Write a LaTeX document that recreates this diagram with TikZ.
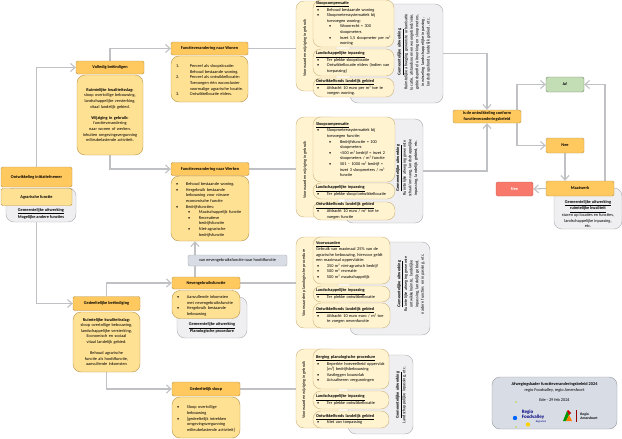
\documentclass[tikz,border=0pt]{standalone}
\usepackage{fontspec}
\setmainfont{Carlito}
\usetikzlibrary{arrows.meta,backgrounds}

\definecolor{kopkleur}{HTML}{FFC95F}
\definecolor{kopRand}{HTML}{B8944A}
\definecolor{inhoudkleur}{HTML}{FFE193}
\definecolor{paneelkleur}{HTML}{FFF3D0}
\definecolor{grijskleur}{HTML}{EFEFF1}
\definecolor{grijsRand}{HTML}{A9ABB0}
\definecolor{lijnkleur}{HTML}{BFC1C5}
\definecolor{jakleur}{HTML}{C3DDB4}
\definecolor{roodkleur}{HTML}{F8786C}
\definecolor{logokleur}{HTML}{D7DCE5}

\hyphenpenalty=10000
\exhyphenpenalty=10000
\newcommand{\klein}{\fontsize{4.3}{5.6}\selectfont}
\newcommand{\punt}[1]{\par\hangindent=11pt\hangafter=1\makebox[11pt][l]{\hspace{1pt}\textbullet}#1\par}
\newcommand{\puntt}[1]{\par\hangindent=24pt\hangafter=1\hspace*{13pt}\makebox[11pt][l]{\textbullet}#1\par}
\newcommand{\num}[2]{\par\hangindent=15pt\hangafter=1\makebox[15pt][l]{\hspace{1pt}#1}#2\par}

\tikzset{
  kop/.style={draw=kopRand, fill=kopkleur, rounded corners=1.5pt, inner sep=0pt,
    font=\klein\bfseries, align=center},
  inhoud/.style={draw=kopRand, fill=inhoudkleur, rounded corners=8pt, inner xsep=4pt,
    inner ysep=0pt, font=\klein, align=left},
  paneel/.style={draw=kopRand!70, fill=paneelkleur, rounded corners=8pt, inner xsep=3pt,
    inner ysep=0pt, font=\klein, align=left},
  grijs/.style={draw=grijsRand, fill=grijskleur, rounded corners=8pt, inner sep=0pt},
  tekst/.style={inner sep=0pt, font=\klein, align=center},
  lijn/.style={draw=lijnkleur, line width=1.1pt},
  pijl/.style={lijn, -{Straight Barb[length=4.5pt,width=8pt]}},
}

\begin{document}
\begin{tikzpicture}[x=1pt,y=-1pt]
  \useasboundingbox (0,0) rectangle (622,439);

  % start
  \node[grijs, minimum width=70pt, minimum height=34pt] (startgrijs) at (41,205) {};
  \node[kop, minimum width=71pt, minimum height=20pt] (initiatief) at (36.5,177) {Ontwikkeling initiatiefnemer};
  \node[kop, fill=inhoudkleur, font=\klein\bfseries, minimum width=71pt, minimum height=17pt] (agrarisch) at (36.5,197) {Agrarische functie};
  \node[tekst, font=\klein\bfseries] (starttekst) at (41,213.5) {\underline{Gemeentelijke uitwerking}\\Mogelijke andere functies};

  % volledig en gedeeltelijk
  \node[kop, minimum width=68pt, minimum height=13pt] (volledig) at (110,67.5) {Volledig beëindigen};
  \node[inhoud, text width=58pt, minimum height=80pt, align=center] (volledigtekst) at (110,115)
    {\textbf{Ruimtelijke kwaliteitsslag:} sloop overtollige bebouwing, landschappelijke versterking, vitaal landelijk gebied.\\[5.6pt]
     \textbf{Wijziging in gebruik:} functieverandering naar wonen of werken.\\Inhuiten omgevingsvergunning milieubelastende activiteit.};
  \node[kop, minimum width=67pt, minimum height=14pt] (gedeeltelijk) at (106.5,303.5) {Gedeeltelijke beëindiging};
  \node[inhoud, text width=59pt, minimum height=60pt, align=center] (gedeeltelijktekst) at (106.5,342)
    {\textbf{Ruimtelijke kwaliteitsslag:} sloop overtollige bebouwing, landschappelijke versterking, Economisch en sociaal vitaal landelijk gebied.\\[5.6pt]
     Behoud agrarische functie als hoofdfunctie, aanvullende inkomsten};

  % functies
  \node[kop, minimum width=77pt, minimum height=13pt] (wonen) at (209.5,48.5) {Functieverandering naar Wonen};
  \node[inhoud, text width=69pt, minimum height=46pt] (wonentekst) at (209.5,79)
    {\num{1.}{Perceel als sloopslocatie:\newline Behoud bestaande woning.}
     \num{2.}{Perceel als ontwikkellocatie:\newline Toevoegen één wooncluster voormalige agrarische locatie.}
     \num{3.}{Ontwikkellocatie elders.}};
  \node[kop, minimum width=78pt, minimum height=13pt] (werken) at (210,169) {Functieverandering  naar Werken};
  \node[inhoud, text width=70pt, minimum height=65pt] (werkentekst) at (210,208.5)
    {\punt{Behoud bestaande woning.}
     \punt{Hergebruik bestaande bebouwing voor nieuwe economische functie}
     \punt{Bedrijfsfuncties:}
     \puntt{Maatschappelijk functie}
     \puntt{Recreatieve bedrijfsfunctie}
     \puntt{Niet-agrarische bedrijfsfunctie}};
  \node[grijs, minimum width=70pt, minimum height=41pt] (nevengrijs) at (212,317.5) {};
  \node[tekst, font=\klein\bfseries] (neventekst) at (212,328) {\underline{Gemeentelijke uitwerking}\\Planologische procedure};
  \node[kop, minimum width=68pt, minimum height=12pt] (neven) at (206,283) {Nevengebruiksfunctie};
  \node[inhoud, text width=60pt, minimum height=28pt] (neveninhoud) at (206,304.5)
    {\punt{Aanvullende inkomsten met nevengebruiksfunctie}
     \punt{Hergebruik bestaande bebouwing}};
  \node[grijs, fill=logokleur, rounded corners=2pt, minimum width=99pt, minimum height=11pt, font=\klein] (omzetting) at (237.5,260.5)
    {van nevengebruiksfunctie naar hoofdfunctie};
  \node[kop, minimum width=68pt, minimum height=14pt] (sloop) at (206,389) {Gedeeltelijk sloop};
  \node[inhoud, text width=60pt, minimum height=41pt] (slooptekst) at (206,417.5)
    {\punt{Sloop overtollige bebouwing}
     \punt{[gedeeltelijk intrekken omgevingsvergunning milieubelastende activiteit]}};
  \coordinate (omzetvoet) at (195,277);

  % blok wonen
  \node[grijs, minimum width=93pt, minimum height=99pt] (woongrijs) at (396.5,53.5) {};
  \node[tekst, rotate=90, text width=82pt] (woonuitwerking) at (414,52)
    {\textbf{\underline{Gemeentelijke uitwerking}}\\Ruimtelijke afweging gewenste urbanisatie locatie, afstandsnormen woongebied/visie, gebiedsprofiel uitwerking en sloopmeters, inwisseling landschappelijke inpassing, landschapsfonds, landelijk gebied, etc.};
  \node[paneel, minimum width=40pt, minimum height=90pt] (woonpaneel) at (316,46) {};
  \node[tekst, rotate=90] (woonlabel) at (305,48) {Voorwaarden wijziging in gebruik};
  \node[paneel, text width=75pt, minimum height=47pt] (woonstoop) at (353.5,23.5)
    {\textbf{\underline{Sloopcompensatie}}
     \punt{Behoud bestaande woning}
     \punt{Sloopmeterssystematiek bij toevoegen woning:}
     \puntt{Woonrecht = 300 sloopmeters}
     \puntt{Inzet 1,5 sloopmeter per m² woning}};
  \node[paneel, text width=75pt, minimum height=27pt] (woonlandschap) at (353.5,62.5)
    {\textbf{\underline{Landschappelijke inpassing}}
     \punt{Ter plekke sloopslocatie}
     \punt{Ontwikkellocatie elders (indien van toepassing)}};
  \node[paneel, text width=75pt, minimum height=19pt] (woonfonds) at (353.5,87.5)
    {\textbf{\underline{Ontwikkelfonds landelijk gebied}}
     \punt{Afdracht 10 euro per m² toe te voegen woning.}};

  % blok werken
  \node[grijs, minimum width=78pt, minimum height=104pt] (werkgrijs) at (384,171) {};
  \node[tekst, rotate=90, text width=80pt] (werkuitwerking) at (407,168)
    {\textbf{\underline{Gemeentelijke uitwerking}}\\Ruimtelijke afweging gewenste schaal/omvang, landschappelijke inpassing, landelijk gebied, etc.};
  \node[paneel, minimum width=42pt, minimum height=100pt] (werkpaneel) at (317,167) {};
  \node[tekst, rotate=90] (werklabel) at (305,170) {Voorwaarden wijziging in gebruik};
  \node[paneel, text width=76pt, minimum height=65pt] (werkstoop) at (354,149.5)
    {\textbf{\underline{Sloopcompensatie}}
     \punt{Sloopmeterssystematiek bij toevoegen functie:}
     \puntt{Bedrijfsfunctie = 100 sloopmeters}
     \puntt{<500 m² bedrijf = inzet 2 sloopmeters / m² functie}
     \puntt{501 – 1000 m² bedrijf = inzet 3 sloopmeters / m² functie}};
  \node[paneel, text width=76pt, minimum height=16pt] (werklandschap) at (354,191)
    {\textbf{\underline{Landschappelijke inpassing}}
     \punt{Ter plekke sloop/ontwikkellocatie}};
  \node[paneel, text width=76pt, minimum height=18pt] (werkfonds) at (354,211)
    {\textbf{\underline{Ontwikkelfonds landelijk gebied}}
     \punt{Afdracht 10 euro / m² toe te voegen functie}};

  % blok neven
  \node[grijs, minimum width=80pt, minimum height=93pt] (nevenblokgrijs) at (390,288.5) {};
  \node[tekst, rotate=90, text width=80pt] (nevenuitwerking) at (411,284)
    {\textbf{\underline{Gemeentelijke uitwerking}}\\Ruimtelijke afweging gewenste ontwikkelruimte, landelijke inpassing, landelijk gebied, nadere functies en inpassing, etc.};
  \node[paneel, minimum width=42pt, minimum height=91pt] (nevenpaneel) at (317,282.5) {};
  \node[tekst, rotate=90] (nevenlabel) at (304,283) {Voorwaarden planologische procedure};
  \node[paneel, text width=71pt, minimum height=47pt] (nevenvoorwaarden) at (351.5,260.5)
    {\textbf{\underline{Voorwaarden}}\\Gebruik van maximaal 25\% van de agrarische bebouwing, hiervoor geldt een maximaal oppervlakte:
     \punt{350 m² niet-agrarisch bedrijf}
     \punt{500 m² recreatie}
     \punt{500 m² maatschappelijk}};
  \node[paneel, text width=71pt, minimum height=16pt] (nevenlandschap) at (351.5,294)
    {\textbf{\underline{Landschappelijke inpassing}}
     \punt{Ter plekke ontwikkellocatie}};
  \node[paneel, text width=71pt, minimum height=25pt] (nevenfonds) at (351.5,315.5)
    {\textbf{\underline{Ontwikkelfonds landelijk gebied}}
     \punt{Afdracht 10 euro euro / m² toe te voegen nevenfunctie}};

  % blok sloop
  \node[grijs, minimum width=65pt, minimum height=79pt] (sloopgrijs) at (380.5,394.5) {};
  \node[tekst, rotate=90, text width=70pt] (loopuitwerking) at (401,395)
    {\textbf{\underline{Gemeentelijke uitwerking}}\\Landschappelijke inpassing, etc.};
  \node[paneel, minimum width=42pt, minimum height=79pt] (slooppaneel) at (317,388.5) {};
  \node[tekst, rotate=90] (slooplabel) at (304,390) {Voorwaarden wijziging in gebruik};
  \node[paneel, text width=70pt, minimum height=40pt] (sloopberging) at (351,369)
    {\textbf{\underline{Berging planologische procedure}}
     \punt{Beperkte hoeveelheid oppervlak [m²] bedrijfsbebouwing}
     \punt{Vastleggen bouwvlak}
     \punt{Actualiseren vergunningen}};
  \node[paneel, text width=70pt, minimum height=18pt] (slooplandschap) at (351,400)
    {\textbf{\underline{Landschappelijke inpassing}}
     \punt{Ter plekke ontwikkellocatie}};
  \node[paneel, text width=70pt, minimum height=17pt] (sloopfonds) at (351,419.5)
    {\textbf{\underline{Ontwikkelfonds landelijk gebied}}
     \punt{Niet van toepassing}};

  % besluit
  \node[kop, minimum width=68pt, minimum height=13pt] (besluit) at (487,116.5) {Is de ontwikkeling conform\\functieveranderingsbeleid};
  \node[kop, fill=jakleur, draw=jakleur!60!black, minimum width=38pt, minimum height=15pt] (ja) at (565,84.5) {Ja!};
  \node[kop, minimum width=38pt, minimum height=15pt] (nee) at (565,145.5) {Nee};
  \node[grijs, minimum width=68pt, minimum height=41pt] (maatgrijs) at (588,208.5) {};
  \node[tekst] (maattekst) at (588,214)
    {\textbf{\underline{Gemeentelijke uitwerking}}\\\textbf{\underline{ruimtelijke kwaliteit}}\\sturen op locaties en functies,\\landschappelijke inpassing,\\etc.};
  \node[kop, minimum width=68pt, minimum height=15pt] (maatwerk) at (580,188.5) {Maatwerk};
  \node[kop, fill=roodkleur, draw=roodkleur!80!black, text=white, minimum width=37pt, minimum height=14pt] (rood) at (514.5,189) {Nee};
  \coordinate (splitboven) at (517,110);
  \coordinate (splitonder) at (517,123);
  \coordinate (terug) at (605,181);

  % logo
  \node[grijs, fill=logokleur, draw=grijsRand!90!black, minimum width=125pt, minimum height=52pt] (logoblok) at (554.5,403) {};
  \node[tekst] (logotitel) at (554.5,387.5) {\textbf{Afwegingskader functieveranderingsbeleid 2024}\\regio Foodvalley, regio Amersfoort};
  \node[tekst] (logodatum) at (554.5,400) {Ede - 29 feb 2024};
  \fill[blue!60!cyan] (515,418) circle (2.2pt);
  \fill[yellow!70!orange] (528,424.5) circle (2.2pt);
  \fill[yellow!60!green!70] (516,402) circle (1pt) (516,427) circle (1pt);
  \node[tekst, font=\fontsize{5}{4.6}\selectfont\bfseries, text=blue!50!black, align=left] (logofood) at (533,414.5) {Regio\\Foodvalley};
  \node[tekst, font=\fontsize{2.6}{3}\selectfont, text=blue!50!black] (logodeal) at (541,421.5) {Regiodeal};
  \fill[green!60!black] (563,421) -- (567,411) -- (569,415) -- (566,421) -- cycle;
  \fill[orange] (566,421) -- (569,415) -- (572,421) -- cycle;
  \fill[red!80!black] (569,415) -- (567,411) -- (568,410) -- (571,413) -- cycle;
  \draw[red!60!black, line width=0.4pt] (576,410) -- (576,422);
  \node[tekst, font=\fontsize{3.6}{4.4}\selectfont\bfseries, align=left] (logoamersfoort) at (589,416) {Regio\\Amersfoort};

  % verbindingen
  \begin{scope}[on background layer]
    \draw[pijl] (initiatief.north) |- (volledig.west);
    \draw[pijl] (startgrijs.south -| initiatief) |- (gedeeltelijk.west);
    \draw[pijl] (volledig.north) |- (wonen.west);
    \draw[pijl] (volledigtekst.south) |- (werken.west);
    \draw[pijl] (gedeeltelijk.north) |- (neven.west);
    \draw[pijl] (gedeeltelijktekst.south) |- (sloop.west);
    \draw[pijl] (omzetvoet) -- (omzetvoet |- werkentekst.south);
    \draw[lijn] (wonen.east) -- (wonen.east -| woonpaneel.west);
    \draw[lijn] (werken.east) -- (werken.east -| werkpaneel.west);
    \draw[lijn] (neven.east) -- (neven.east -| nevenpaneel.west);
    \draw[lijn] (sloop.east) -- (sloop.east -| slooppaneel.west);
    \draw[pijl] (woongrijs.east) -| (besluit.north);
    \draw[pijl] (werkgrijs.east) -| (besluit.south);
    \draw[pijl] (splitboven) |- (ja.west);
    \draw[pijl] (splitonder) |- (nee.west);
    \draw[pijl] (nee.south) -- (nee.south |- maatwerk.north);
    \draw[pijl] (terug) |- (ja.east);
    \draw[pijl] (maatwerk.west) -- (rood.east);
  \end{scope}
\end{tikzpicture}
\end{document}
